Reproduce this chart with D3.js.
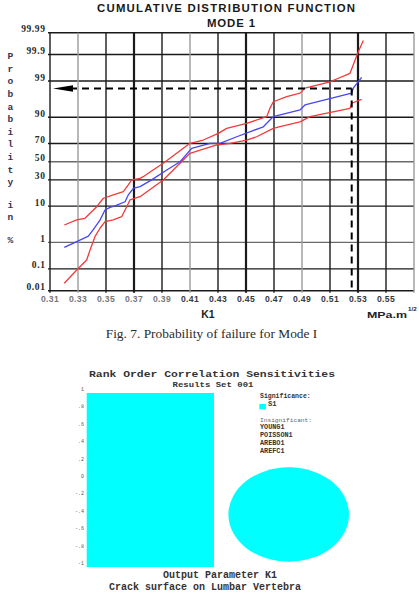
<!DOCTYPE html>
<html><head><meta charset="utf-8">
<script src="https://cdn.jsdelivr.net/npm/d3@7"></script>
<style>body{margin:0;background:#fff}svg{display:block}</style>
</head><body>
<script>
// ---------- DATA ----------
const xTickValues = [0.31,0.33,0.35,0.37,0.39,0.41,0.43,0.45,0.47,0.49,0.51,0.53,0.55];
const xTickLabels = ["0.31","0.33","0.35","0.37","0.39","0.41","0.43","0.45","0.47","0.49","0.51","0.53","0.55"];
const yTickValues = [0.01,0.1,1,10,30,50,70,90,99,99.9,99.99];
const yTickLabels = ["0.01","0.1","1","10","30","50","70","90","99","99.9","99.99"];

const medianK = [0.3202,0.3291,0.3374,0.3409,0.3457,0.3493,0.3529,0.3564,0.3636,0.3659,0.3695,0.3743,0.3826,0.3934,0.4029,0.4112,0.4243,0.4314,0.4434,0.4624,0.4671,0.4695,0.4886,0.4921,0.5255,0.5266,0.5326];
const medianP = [0.68,1.06,1.6,2.5,4.6,8.2,9.4,10.1,12.4,16.9,22.0,23.6,30.0,40.5,50.0,65.0,70.2,70.2,76.4,84.3,88.5,90.3,93.2,94.9,97.6,98.3,99.25];

const upperK = [0.3202,0.3291,0.3350,0.3386,0.3434,0.3481,0.3552,0.3624,0.3659,0.3684,0.3743,0.3766,0.3836,0.3909,0.4100,0.4195,0.4302,0.4362,0.4505,0.4648,0.4671,0.4695,0.4791,0.4886,0.4921,0.5100,0.5243,0.5302,0.5338];
const upperP = [3.4,4.65,5.14,6.85,9.73,14.6,16.9,19.4,25.1,29.9,31.6,33.3,40.5,48.2,70.2,73.4,79.3,83.2,86.6,90.3,93.8,95.8,96.95,97.6,98.3,98.94,99.46,99.924,99.976];

const lowerK = [0.3202,0.3291,0.3362,0.3386,0.3421,0.3457,0.3493,0.3552,0.3612,0.3648,0.3671,0.3743,0.3909,0.3957,0.4100,0.4291,0.4386,0.4505,0.4576,0.4695,0.4743,0.4886,0.4957,0.5243,0.5255,0.5326];
const lowerP = [0.0229,0.090,0.23,0.546,1.53,2.75,4.19,4.65,5.65,9.73,13.5,15.65,29.9,36.9,59.6,68.5,70.2,73.4,76.4,83.2,84.4,87.5,90.3,93.8,95.4,96.4];

const markerK = 0.5255;
const markerP = 98.25;

// lower chart data
const sensCategories = ["S1"];
const sensValues = [1];
const insignificant = ["YOUNG1","POISSON1","AREBO1","AREFC1"];
const sensTicks = [1,0.8,0.6,0.4,0.2,0,-0.2,-0.4,-0.6,-0.8,-1];
const sensTickLabels = ["1",".8",".6",".4",".2","0","-.2","-.4","-.6","-.8","-1"];

// ---------- helpers ----------
function probit(p){
  const a=[-3.969683028665376e+01,2.209460984245205e+02,-2.759285104469687e+02,1.383577518672690e+02,-3.066479806614716e+01,2.506628277459239e+00];
  const b=[-5.447609879822406e+01,1.615858368580409e+02,-1.556989798598866e+02,6.680131188771972e+01,-1.328068155288572e+01];
  const c=[-7.784894002430293e-03,-3.223964580411365e-01,-2.400758277161838e+00,-2.549732539343734e+00,4.374664141464968e+00,2.938163982698783e+00];
  const d=[7.784695709041462e-03,3.224671290700398e-01,2.445134137142996e+00,3.754408661907416e+00];
  const pl=0.02425, ph=1-pl; let q,r;
  if(p<pl){q=Math.sqrt(-2*Math.log(p));return (((((c[0]*q+c[1])*q+c[2])*q+c[3])*q+c[4])*q+c[5])/((((d[0]*q+d[1])*q+d[2])*q+d[3])*q+1);}
  if(p<=ph){q=p-0.5;r=q*q;return (((((a[0]*r+a[1])*r+a[2])*r+a[3])*r+a[4])*r+a[5])*q/(((((b[0]*r+b[1])*r+b[2])*r+b[3])*r+b[4])*r+1);}
  q=Math.sqrt(-2*Math.log(1-p));return -(((((c[0]*q+c[1])*q+c[2])*q+c[3])*q+c[4])*q+c[5])/((((d[0]*q+d[1])*q+d[2])*q+d[3])*q+1);
}

const W=419,H=597;
const svg=d3.select("body").append("svg").attr("width",W).attr("height",H);

// ---------- TOP CHART ----------
const x=d3.scaleLinear().domain([0.31,0.57]).range([50,414]);
const zS=d3.scaleLinear().domain([probit(0.0001),probit(0.9999)]).range([290.7,32.7]);
const yP=p=>zS(probit(p/100));

const g=svg.append("g");
// horizontal grid
g.selectAll("line.h").data(yTickValues).join("line")
  .attr("x1",x.range()[0]-2).attr("x2",x.range()[1])
  .attr("y1",d=>yP(d)).attr("y2",d=>yP(d))
  .attr("stroke",(d)=> (d===1||d===50)?"#6a6a6a":"#1a1a1a")
  .attr("stroke-width",1.4);
// vertical grid
const gridK=d3.range(0,14).map(i=>+(0.31+i*0.02).toFixed(2));
g.selectAll("line.v").data(gridK).join("line")
  .attr("x1",d=>x(d)).attr("x2",d=>x(d))
  .attr("y1",zS.range()[1]).attr("y2",zS.range()[0]+2)
  .attr("stroke",(d,i)=> (i%4===1)?"#9a9a9a":"#1a1a1a")
  .attr("stroke-width",(d,i)=> (i%4===3)?2.2:1.4);

// title
svg.append("text").attr("x",226).attr("y",11.5).attr("text-anchor","middle")
  .attr("font-family","Liberation Sans, Arial, sans-serif").attr("font-weight","bold")
  .attr("font-size",11.4).attr("fill","#1a1a1a").attr("textLength",258).attr("lengthAdjust","spacing")
  .text("CUMULATIVE DISTRIBUTION FUNCTION");
svg.append("text").attr("x",231).attr("y",26.5).attr("text-anchor","middle")
  .attr("font-family","Liberation Sans, Arial, sans-serif").attr("font-weight","bold")
  .attr("font-size",11.4).attr("fill","#1a1a1a").attr("textLength",48).attr("lengthAdjust","spacing")
  .text("MODE 1");

// y tick labels
svg.selectAll("text.yt").data(yTickValues).join("text")
  .attr("x",45.5).attr("y",d=>yP(d)-0.5).attr("text-anchor","end")
  .attr("font-family","Liberation Serif, Times New Roman, serif").attr("font-weight","bold")
  .attr("font-size",9.5).attr("letter-spacing",0.6).attr("fill","#2a2a2a")
  .text((d,i)=>yTickLabels[i]);

// x tick labels
svg.selectAll("text.xt").data(xTickValues).join("text")
  .attr("x",d=>x(d)).attr("y",301.5).attr("text-anchor","middle")
  .attr("font-family","Liberation Sans, Arial, sans-serif").attr("font-weight","bold")
  .attr("font-size",8.6).attr("letter-spacing",0.3)
  .attr("fill",(d,i)=> i<5?"#777":"#3a3a3a")
  .text((d,i)=>xTickLabels[i]);

// axis titles
svg.append("text").attr("x",208).attr("y",318).attr("text-anchor","middle")
  .attr("font-family","Liberation Sans, Arial, sans-serif").attr("font-weight","bold")
  .attr("font-size",10.5).attr("fill","#222").text("K1");
svg.append("text").attr("x",367).attr("y",318)
  .attr("font-family","Liberation Sans, Arial, sans-serif").attr("font-weight","bold")
  .attr("font-size",8.6).attr("fill","#222").attr("textLength",40).attr("lengthAdjust","spacingAndGlyphs")
  .text("MPa.m");
svg.append("text").attr("x",408).attr("y",310.5)
  .attr("font-family","Liberation Sans, Arial, sans-serif").attr("font-weight","bold")
  .attr("font-size",6.2).attr("fill","#222").text("1/2");

// vertical y label
const ylab="Probability in %";
let yy=56.7;
const yl=svg.append("g");
for(const ch of ylab){
  if(ch===" "){yy+=10;continue;}
  yl.append("text").attr("x",10.5).attr("y",yy).attr("text-anchor","middle")
    .attr("dominant-baseline","central")
    .attr("font-family","Liberation Mono, Courier New, monospace").attr("font-weight","bold")
    .attr("font-size",9.6).attr("fill","#3b3450").text(ch);
  yy+=12.6;
}

// curves
const line=d3.line().x(d=>x(d[0])).y(d=>yP(d[1]));
const series=[
  {k:upperK,p:upperP,c:"#f23a3a"},
  {k:lowerK,p:lowerP,c:"#f23a3a"},
  {k:medianK,p:medianP,c:"#4646f5"}
];
series.forEach(s=>{
  g.append("path").attr("d",line(s.k.map((k,i)=>[k,s.p[i]])))
    .attr("fill","none").attr("stroke",s.c).attr("stroke-width",1.3).attr("stroke-linejoin","round");
});

// dashed marker lines
const mx=x(markerK), my=yP(markerP);
g.append("line").attr("x1",x(0.31)+20).attr("x2",mx).attr("y1",my).attr("y2",my)
  .attr("stroke","#000").attr("stroke-width",2).attr("stroke-dasharray","7,5");
g.append("line").attr("x1",mx).attr("x2",mx).attr("y1",my).attr("y2",zS.range()[0])
  .attr("stroke","#000").attr("stroke-width",2).attr("stroke-dasharray","7,5");
g.append("path").attr("d",`M${x(0.31)+3},${my}L${x(0.31)+23},${my-3.2}L${x(0.31)+23},${my+3.2}Z`).attr("fill","#000");

// caption
svg.append("text").attr("x",211.5).attr("y",338).attr("text-anchor","middle")
  .attr("font-family","Liberation Serif, Times New Roman, serif").attr("font-size",13.4)
  .attr("fill","#2b2b2b").text("Fig. 7. Probability of failure for Mode I");

// ---------- LOWER CHART ----------
const mono="Liberation Mono, Courier New, monospace";
svg.append("text").attr("transform","translate(212,376.5) scale(1,0.72)").attr("text-anchor","middle")
  .attr("font-family",mono).attr("font-weight","bold").attr("font-size",11.4).attr("fill","#333")
  .text("Rank Order Correlation Sensitivities");
svg.append("text").attr("transform","translate(213,387) scale(1,0.75)").attr("text-anchor","middle")
  .attr("font-family",mono).attr("font-weight","bold").attr("font-size",9).attr("fill","#333")
  .text("Results Set 001");

const sy=d3.scaleLinear().domain([-1,1]).range([563,389]);
const sx=d3.scaleBand().domain(sensCategories).range([86.7,214]).padding(0);
svg.selectAll("rect.bar").data(sensValues).join("rect")
  .attr("x",(d,i)=>sx(sensCategories[i])).attr("width",sx.bandwidth())
  .attr("y",sy(1)+4).attr("height",sy(-1)-sy(1))
  .attr("fill","#00ffff");
svg.selectAll("text.st").data(sensTicks).join("text")
  .attr("x",84).attr("y",d=>sy(d)+2).attr("text-anchor","end")
  .attr("font-family",mono).attr("font-size",5).attr("fill","#555")
  .text((d,i)=>sensTickLabels[i]);

// legend
const lg=svg.append("g").attr("font-family",mono).attr("font-weight","bold").attr("fill","#333");
lg.append("text").attr("x",260).attr("y",398).attr("font-size",6.5).text("Significance:");
lg.append("rect").attr("x",259.3).attr("y",404).attr("width",6.7).attr("height",5.3).attr("fill","#00ffff");
lg.append("text").attr("x",268).attr("y",405.5).attr("font-size",7.2).text(sensCategories[0]);
lg.append("text").attr("x",260).attr("y",421.5).attr("font-size",6.2).attr("font-weight","normal").attr("fill","#666").text("Insignificant:");
lg.selectAll("text.ins").data(insignificant).join("text")
  .attr("x",260).attr("y",(d,i)=>428.5+i*8.3).attr("font-size",6.8).text(d=>d);

// pie as ellipse
const pie=d3.pie().sort(null)(sensValues);
const arc=d3.arc().innerRadius(0).outerRadius(1);
svg.append("g").attr("transform","translate(288.7,514.5) scale(60.3,47.2)")
  .selectAll("path").data(pie).join("path").attr("d",arc).attr("fill","#00ffff");

svg.append("text").attr("x",220).attr("y",578).attr("text-anchor","middle")
  .attr("font-family",mono).attr("font-weight","bold").attr("font-size",10).attr("fill","#333")
  .text("Output Parameter K1");
svg.append("text").attr("x",205).attr("y",590).attr("text-anchor","middle")
  .attr("font-family",mono).attr("font-weight","bold").attr("font-size",10).attr("fill","#333")
  .text("Crack surface on Lumbar Vertebra");
</script>
</body></html>
